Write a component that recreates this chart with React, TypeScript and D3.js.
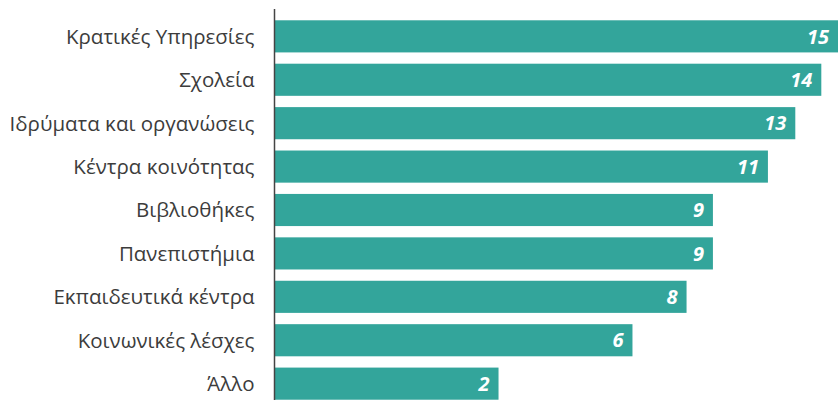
import React from "react";
import * as d3 from "d3";

const categories = [
  "Κρατικές Υπηρεσίες",
  "Σχολεία",
  "Ιδρύματα και οργανώσεις",
  "Κέντρα κοινότητας",
  "Βιβλιοθήκες",
  "Πανεπιστήμια",
  "Εκπαιδευτικά κέντρα",
  "Κοινωνικές λέσχες",
  "Άλλο",
];
const values = [15, 14, 12.7, 11.4, 9, 9, 7.95, 6, 2.35];
const labels = ["15", "14", "13", "11", "9", "9", "8", "6", "2"];

const W = 838;
const H = 403;
const axisX = 274.5;
const top = 9;
const bottom = 400;

export default function App() {
  const x = d3.scaleSqrt().domain([0, 15]).range([axisX, axisX + 566]);
  const y = d3
    .scaleBand<string>()
    .domain(categories)
    .range([top, bottom + 11])
    .paddingInner(0.26)
    .paddingOuter(0.26);
  return (
    <svg
      width={W}
      height={H}
      style={{ position: "absolute", left: 0, top: 0, display: "block" }}
    >
      {categories.map((c, i) => {
        const yy = y(c)!;
        const bh = y.bandwidth();
        return (
          <g key={c}>
            <rect
              x={axisX}
              y={yy}
              width={x(values[i]) - axisX}
              height={bh}
              fill="#33a59b"
            />
            <text
              x={axisX - 20}
              y={yy + bh / 2}
              dy="0.36em"
              textAnchor="end"
              fontFamily="'Open Sans', sans-serif"
              fontSize={20.5}
              fill="#3c3c3c"
            >
              {c}
            </text>
            <text
              x={Math.min(x(values[i]), W) - 9}
              y={yy + bh / 2}
              dy="0.36em"
              textAnchor="end"
              fontFamily="'Open Sans', sans-serif"
              fontSize={20}
              fontWeight={700}
              fontStyle="italic"
              fill="#fff"
            >
              {labels[i]}
            </text>
          </g>
        );
      })}
      <line x1={axisX} x2={axisX} y1={top} y2={bottom} stroke="#444" strokeWidth={1.5} />
    </svg>
  );
}
